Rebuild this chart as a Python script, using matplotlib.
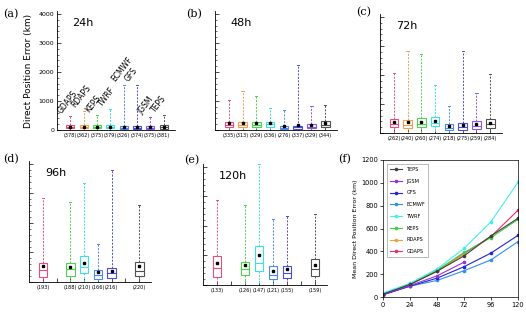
import matplotlib
matplotlib.use("Agg")
import matplotlib.pyplot as plt
from matplotlib.ticker import MultipleLocator

models = ["GDAPS", "RDAPS", "KEPS", "TWRF", "ECMWF", "GFS", "JGSM", "TEPS"]
colors = ["#e8507c", "#f0a050", "#4cd44c", "#3fe0e0", "#4a8ae8", "#4b4bd8", "#8a5ae6", "#505050"]

# box statistics per lead time (None = not available)
q1_24 = [55, 55, 60, 55, 35, 35, 40, 50]
med_24 = [95, 90, 100, 95, 70, 65, 75, 90]
q3_24 = [170, 170, 180, 175, 130, 125, 135, 160]
mean_24 = [110, 110, 115, 120, 95, 95, 100, 110]
hi_24 = [480, 670, 520, 720, 1560, 1560, 450, 500]
n_24 = [378, 362, 375, 379, 326, 374, 375, 381]

q1_48 = [95, 90, 100, 110, 30, 35, 55, 95]
med_48 = [170, 165, 180, 190, 85, 90, 120, 175]
q3_48 = [270, 265, 290, 290, 155, 155, 215, 300]
mean_48 = [230, 225, 235, 245, 145, 165, 185, 225]
hi_48 = [1050, 1340, 1160, 760, 700, 2230, 810, 860]
n_48 = [335, 313, 329, 336, 276, 337, 329, 344]

q1_72 = [190, 170, 200, 225, 90, 110, 135, 180]
med_72 = [300, 290, 320, 360, 170, 190, 230, 300]
q3_72 = [470, 450, 505, 560, 300, 340, 415, 495]
mean_72 = [380, 375, 390, 425, 230, 265, 305, 360]
hi_72 = [2080, 2810, 2720, 1650, 940, 2830, 1390, 2020]
n_72 = [262, 240, 260, 274, 218, 275, 259, 284]

q1_96 = [175, None, 200, 290, 115, 150, None, 200]
med_96 = [410, None, 430, 520, 230, 290, None, 385]
q3_96 = [640, None, 640, 895, 405, 465, None, 690]
mean_96 = [530, None, 520, 660, 325, 385, None, 535]
hi_96 = [2830, None, 2710, 3350, 1300, 3810, None, 2620]
n_96 = [193, None, 188, 210, 166, 216, None, 220]

q1_120 = [265, None, 350, 465, 195, 230, None, 310]
med_120 = [580, None, 545, 730, 350, 405, None, 545]
q3_120 = [985, None, 790, 1335, 635, 660, None, 895]
mean_120 = [760, None, 680, 1005, 485, 540, None, 690]
hi_120 = [2870, None, 2720, 4100, 2240, 2330, None, 2400]
n_120 = [133, None, 126, 147, 121, 155, None, 159]

whislo = 8

# mean direct position error vs lead time
lead = [0, 24, 48, 72, 96, 120]
mde = {
    "GDAPS": [20, 110, 230, 380, 530, 760],
    "RDAPS": [25, 110, 225, 375],
    "KEPS": [25, 115, 235, 390, 520, 680],
    "TWRF": [35, 120, 245, 425, 660, 1005],
    "ECMWF": [20, 95, 145, 230, 325, 485],
    "GFS": [20, 95, 165, 265, 385, 540],
    "JGSM": [20, 100, 185, 305],
    "TEPS": [25, 110, 225, 360, 535, 690],
}
f_colors = {"GDAPS": "#e8306a", "RDAPS": "#f0a040", "KEPS": "#40d040", "TWRF": "#40f0f0",
            "ECMWF": "#3090f0", "GFS": "#2525d0", "JGSM": "#9a30e0", "TEPS": "#404040"}

W, H = 526, 314
fig = plt.figure(figsize=(W / 100, H / 100), dpi=100)


def ax_px(l, t, r, b):
    return fig.add_axes([l / W, 1 - b / H, (r - l) / W, (b - t) / H])


panels = [
    ("(a)", "24h", (57, 11, 175, 130), (3, 14), q1_24, med_24, q3_24, mean_24, hi_24, n_24),
    ("(b)", "48h", (215, 11, 337, 130), (186, 14), q1_48, med_48, q3_48, mean_48, hi_48, n_48),
    ("(c)", "72h", (380, 14, 502, 133), (356, 12), q1_72, med_72, q3_72, mean_72, hi_72, n_72),
    ("(d)", "96h", (29, 161, 151, 282), (3, 159), q1_96, med_96, q3_96, mean_96, hi_96, n_96),
    ("(e)", "120h", (203, 164, 327, 285), (184, 160), q1_120, med_120, q3_120, mean_120, hi_120, n_120),
]

for letter, title, box, lpos, q1, med, q3, mn, hi, nn in panels:
    ax = ax_px(*box)
    stats, pos, cols = [], [], []
    for i in range(len(models)):
        if q1[i] is None:
            continue
        stats.append(dict(q1=q1[i], med=med[i], q3=q3[i], mean=mn[i],
                          whislo=whislo, whishi=hi[i], fliers=[]))
        pos.append(i + 1)
        cols.append(colors[i])
    bp = ax.bxp(stats, positions=pos, widths=0.62, showmeans=True, patch_artist=True,
                showcaps=True, manage_ticks=False)
    for j, c in enumerate(cols):
        bp["boxes"][j].set(facecolor="white", edgecolor=c, linewidth=0.8)
        bp["medians"][j].set(color=c, linewidth=0.8)
        bp["means"][j].set(marker="s", markerfacecolor="black", markeredgecolor="black", markersize=1.7)
        for k in (2 * j, 2 * j + 1):
            bp["whiskers"][k].set(color=c, linestyle=(0, (2, 1.5)), linewidth=0.7)
            bp["caps"][k].set(color=c, linewidth=0.7, xdata=[pos[j] - 0.08, pos[j] + 0.08])
    ax.set_xlim(0, 8.85)
    ax.set_ylim(0, 4100)
    ax.spines["top"].set_visible(False)
    ax.spines["right"].set_visible(False)
    for s in ("left", "bottom"):
        ax.spines[s].set_linewidth(0.6)
    ax.set_xticks(range(1, 9))
    ax.set_xticklabels(["" if v is None else "(%d)" % v for v in nn], fontsize=3.6)
    ax.tick_params(axis="x", direction="in", length=3, width=0.5, pad=2)
    ax.yaxis.set_major_locator(MultipleLocator(1000))
    ax.yaxis.set_minor_locator(MultipleLocator(200))
    ax.tick_params(axis="y", which="major", direction="in", length=3, width=0.5, labelsize=4.5, pad=2)
    ax.tick_params(axis="y", which="minor", direction="in", length=1.5, width=0.4)
    if letter != "(a)":
        ax.set_yticklabels([])
    ax.text(0.13, 0.94, title, transform=ax.transAxes, fontsize=8, va="top", ha="left")
    fig.text(lpos[0] / W, 1 - lpos[1] / H, letter, fontsize=8, family="DejaVu Serif", va="center", ha="left")
    if letter == "(a)":
        ax.set_ylabel("Direct Position Error (km)", fontsize=6.5, labelpad=4)
        for i, m in enumerate(models):
            ax.text(i + 1 - 0.5, hi[i] + 40, m, rotation=52, rotation_mode="anchor",
                    ha="left", va="bottom", fontsize=5.5)

# panel f
axf = ax_px(383, 160, 518, 297)
for m in ["GDAPS", "RDAPS", "KEPS", "TWRF", "ECMWF", "GFS", "JGSM", "TEPS"]:
    vals = mde[m]
    axf.plot(lead[:len(vals)], vals, color=f_colors[m], marker="o", markersize=1.6, linewidth=0.8, label=m)
axf.set_xlim(0, 120)
axf.set_ylim(0, 1200)
axf.set_xticks(lead)
axf.set_yticks(range(0, 1201, 200))
axf.tick_params(labelsize=4.8, length=2, width=0.5, pad=1.5)
for s in axf.spines.values():
    s.set_linewidth(0.5)
axf.set_ylabel("Mean Direct Position Error (km)", fontsize=4.5, labelpad=2)
handles, labels = axf.get_legend_handles_labels()
leg = axf.legend(handles[::-1], labels[::-1], loc="upper left", fontsize=3.6, frameon=True,
                 fancybox=False, edgecolor="#888888", handlelength=2.5, labelspacing=1.35,
                 borderpad=0.6, bbox_to_anchor=(0.01, 0.99))
leg.get_frame().set_linewidth(0.5)
fig.text(338 / W, 1 - 159 / H, "(f)", fontsize=8, family="DejaVu Serif", va="center", ha="left")

fig.savefig("out.png", dpi=100)
